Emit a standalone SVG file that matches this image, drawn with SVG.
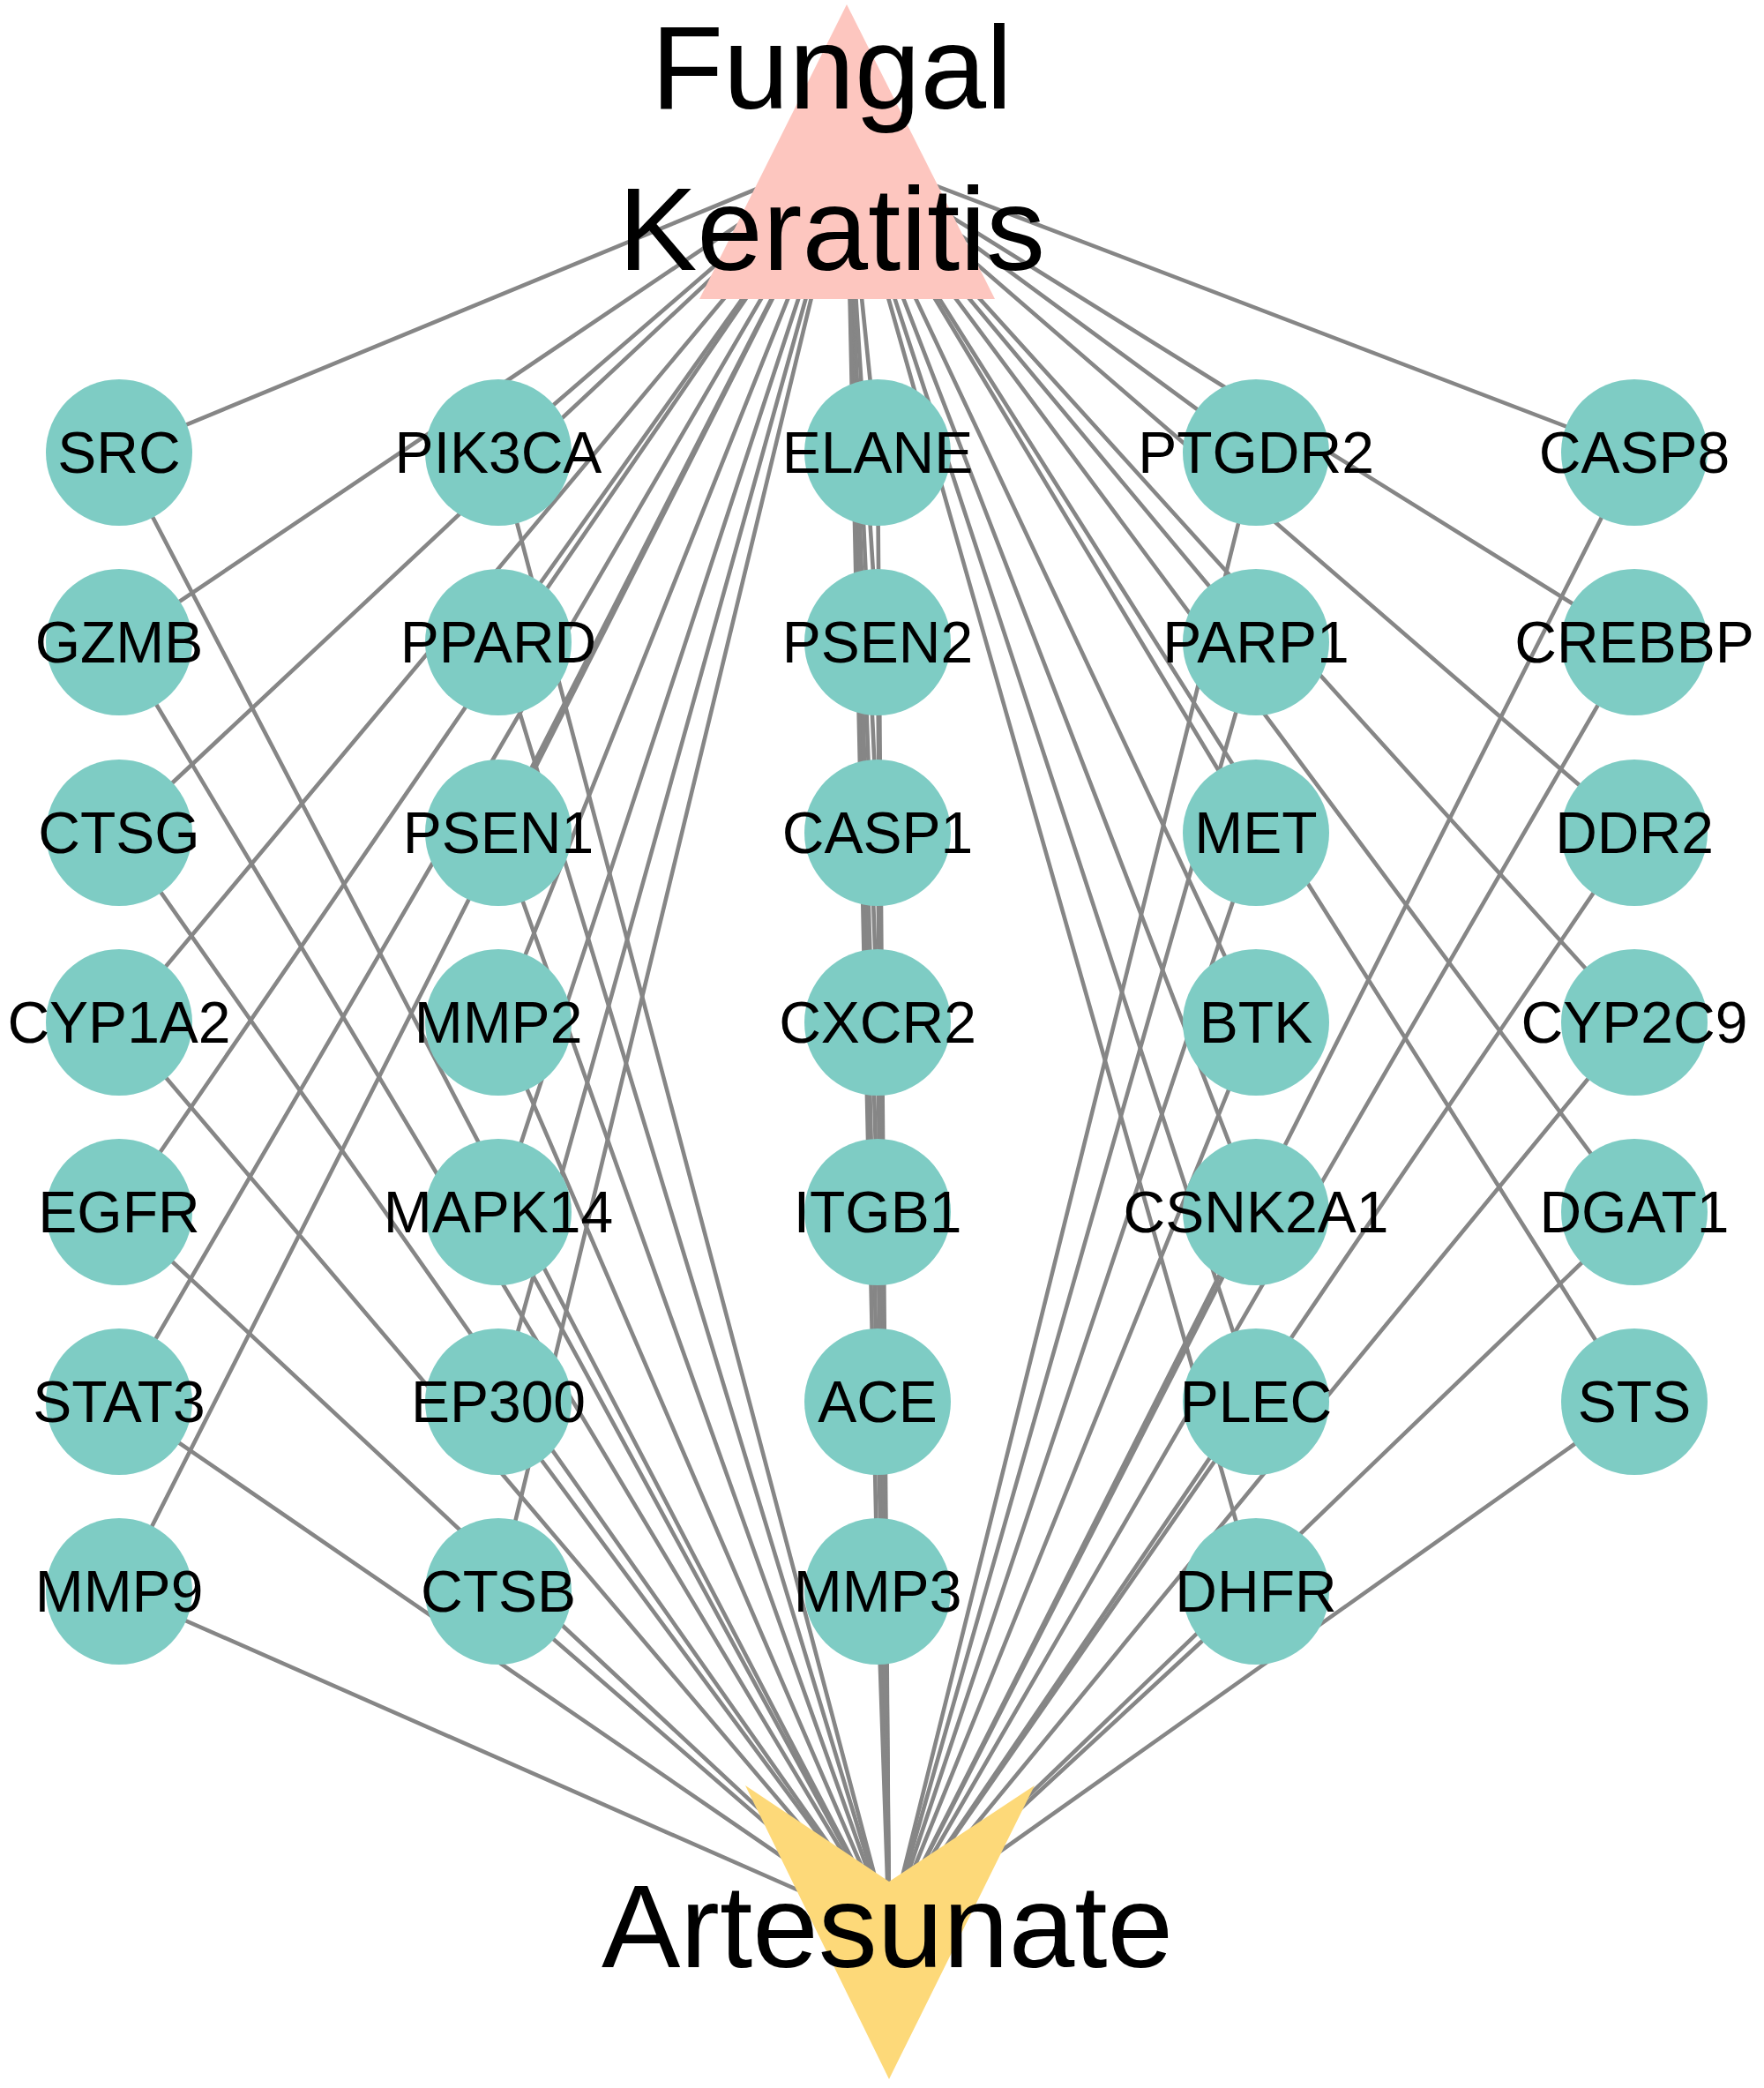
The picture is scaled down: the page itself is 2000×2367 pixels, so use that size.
<svg xmlns="http://www.w3.org/2000/svg" width="2000" height="2367" viewBox="0 0 2000 2367">
<style>
.e{stroke:#868686;stroke-width:4.6;fill:none}
.n{fill:#7ECCC4}
.t{font-family:"Liberation Sans",Arial,sans-serif;font-size:66px;fill:#000;text-anchor:middle}
.big{font-family:"Liberation Sans",Arial,sans-serif;font-size:134px;fill:#000;text-anchor:middle}
</style>
<rect width="2000" height="2367" fill="#fff"/>
<g id="edges">
<path class="e" d="M135 513L960 172M135 513L1008 2188"/>
<path class="e" d="M135 728L960 172M135 728L1008 2188"/>
<path class="e" d="M135 944L960 172M135 944L1008 2188"/>
<path class="e" d="M135 1159L960 172M135 1159L1008 2188"/>
<path class="e" d="M135 1374L960 172M135 1374L1008 2188"/>
<path class="e" d="M135 1589L960 172M135 1589L1008 2188"/>
<path class="e" d="M135 1804L960 172M135 1804L1008 2188"/>
<path class="e" d="M565 513L960 172M565 513L1008 2188"/>
<path class="e" d="M565 728L960 172M565 728L1008 2188"/>
<path class="e" d="M565 944L960 172M565 944L1008 2188"/>
<path class="e" d="M565 1159L960 172M565 1159L1008 2188"/>
<path class="e" d="M565 1374L960 172M565 1374L1008 2188"/>
<path class="e" d="M565 1589L960 172M565 1589L1008 2188"/>
<path class="e" d="M565 1804L960 172M565 1804L1008 2188"/>
<path class="e" d="M995 513L960 172M995 513L1008 2188"/>
<path class="e" d="M995 728L960 172M995 728L1008 2188"/>
<path class="e" d="M995 944L960 172M995 944L1008 2188"/>
<path class="e" d="M995 1159L960 172M995 1159L1008 2188"/>
<path class="e" d="M995 1374L960 172M995 1374L1008 2188"/>
<path class="e" d="M995 1589L960 172M995 1589L1008 2188"/>
<path class="e" d="M995 1804L960 172M995 1804L1008 2188"/>
<path class="e" d="M1424 513L960 172M1424 513L1008 2188"/>
<path class="e" d="M1424 728L960 172M1424 728L1008 2188"/>
<path class="e" d="M1424 944L960 172M1424 944L1008 2188"/>
<path class="e" d="M1424 1159L960 172M1424 1159L1008 2188"/>
<path class="e" d="M1424 1374L960 172M1424 1374L1008 2188"/>
<path class="e" d="M1424 1589L960 172M1424 1589L1008 2188"/>
<path class="e" d="M1424 1804L960 172M1424 1804L1008 2188"/>
<path class="e" d="M1853 513L960 172M1853 513L1008 2188"/>
<path class="e" d="M1853 728L960 172M1853 728L1008 2188"/>
<path class="e" d="M1853 944L960 172M1853 944L1008 2188"/>
<path class="e" d="M1853 1159L960 172M1853 1159L1008 2188"/>
<path class="e" d="M1853 1374L960 172M1853 1374L1008 2188"/>
<path class="e" d="M1853 1589L960 172M1853 1589L1008 2188"/>
</g>
<g id="fungal_keratitis">
<polygon points="960,5 793,339 1128,339" fill="#FDC6BF"/>
<text class="big" x="943" y="123">Fungal</text>
<text class="big" x="943" y="306">Keratitis</text>
</g>
<g id="artesunate">
<polygon points="845,2024 1008,2133 1173,2024 1008,2357" fill="#FDD979"/>
<text class="big" x="1006" y="2230">Artesunate</text>
</g>
<g id="SRC"><circle class="n" cx="135" cy="513" r="83"/><text class="t" x="135" y="536">SRC</text></g>
<g id="GZMB"><circle class="n" cx="135" cy="728" r="83"/><text class="t" x="135" y="751">GZMB</text></g>
<g id="CTSG"><circle class="n" cx="135" cy="944" r="83"/><text class="t" x="135" y="967">CTSG</text></g>
<g id="CYP1A2"><circle class="n" cx="135" cy="1159" r="83"/><text class="t" x="135" y="1182">CYP1A2</text></g>
<g id="EGFR"><circle class="n" cx="135" cy="1374" r="83"/><text class="t" x="135" y="1397">EGFR</text></g>
<g id="STAT3"><circle class="n" cx="135" cy="1589" r="83"/><text class="t" x="135" y="1612">STAT3</text></g>
<g id="MMP9"><circle class="n" cx="135" cy="1804" r="83"/><text class="t" x="135" y="1827">MMP9</text></g>
<g id="PIK3CA"><circle class="n" cx="565" cy="513" r="83"/><text class="t" x="565" y="536">PIK3CA</text></g>
<g id="PPARD"><circle class="n" cx="565" cy="728" r="83"/><text class="t" x="565" y="751">PPARD</text></g>
<g id="PSEN1"><circle class="n" cx="565" cy="944" r="83"/><text class="t" x="565" y="967">PSEN1</text></g>
<g id="MMP2"><circle class="n" cx="565" cy="1159" r="83"/><text class="t" x="565" y="1182">MMP2</text></g>
<g id="MAPK14"><circle class="n" cx="565" cy="1374" r="83"/><text class="t" x="565" y="1397">MAPK14</text></g>
<g id="EP300"><circle class="n" cx="565" cy="1589" r="83"/><text class="t" x="565" y="1612">EP300</text></g>
<g id="CTSB"><circle class="n" cx="565" cy="1804" r="83"/><text class="t" x="565" y="1827">CTSB</text></g>
<g id="ELANE"><circle class="n" cx="995" cy="513" r="83"/><text class="t" x="995" y="536">ELANE</text></g>
<g id="PSEN2"><circle class="n" cx="995" cy="728" r="83"/><text class="t" x="995" y="751">PSEN2</text></g>
<g id="CASP1"><circle class="n" cx="995" cy="944" r="83"/><text class="t" x="995" y="967">CASP1</text></g>
<g id="CXCR2"><circle class="n" cx="995" cy="1159" r="83"/><text class="t" x="995" y="1182">CXCR2</text></g>
<g id="ITGB1"><circle class="n" cx="995" cy="1374" r="83"/><text class="t" x="995" y="1397">ITGB1</text></g>
<g id="ACE"><circle class="n" cx="995" cy="1589" r="83"/><text class="t" x="995" y="1612">ACE</text></g>
<g id="MMP3"><circle class="n" cx="995" cy="1804" r="83"/><text class="t" x="995" y="1827">MMP3</text></g>
<g id="PTGDR2"><circle class="n" cx="1424" cy="513" r="83"/><text class="t" x="1424" y="536">PTGDR2</text></g>
<g id="PARP1"><circle class="n" cx="1424" cy="728" r="83"/><text class="t" x="1424" y="751">PARP1</text></g>
<g id="MET"><circle class="n" cx="1424" cy="944" r="83"/><text class="t" x="1424" y="967">MET</text></g>
<g id="BTK"><circle class="n" cx="1424" cy="1159" r="83"/><text class="t" x="1424" y="1182">BTK</text></g>
<g id="CSNK2A1"><circle class="n" cx="1424" cy="1374" r="83"/><text class="t" x="1424" y="1397">CSNK2A1</text></g>
<g id="PLEC"><circle class="n" cx="1424" cy="1589" r="83"/><text class="t" x="1424" y="1612">PLEC</text></g>
<g id="DHFR"><circle class="n" cx="1424" cy="1804" r="83"/><text class="t" x="1424" y="1827">DHFR</text></g>
<g id="CASP8"><circle class="n" cx="1853" cy="513" r="83"/><text class="t" x="1853" y="536">CASP8</text></g>
<g id="CREBBP"><circle class="n" cx="1853" cy="728" r="83"/><text class="t" x="1853" y="751">CREBBP</text></g>
<g id="DDR2"><circle class="n" cx="1853" cy="944" r="83"/><text class="t" x="1853" y="967">DDR2</text></g>
<g id="CYP2C9"><circle class="n" cx="1853" cy="1159" r="83"/><text class="t" x="1853" y="1182">CYP2C9</text></g>
<g id="DGAT1"><circle class="n" cx="1853" cy="1374" r="83"/><text class="t" x="1853" y="1397">DGAT1</text></g>
<g id="STS"><circle class="n" cx="1853" cy="1589" r="83"/><text class="t" x="1853" y="1612">STS</text></g>
</svg>
